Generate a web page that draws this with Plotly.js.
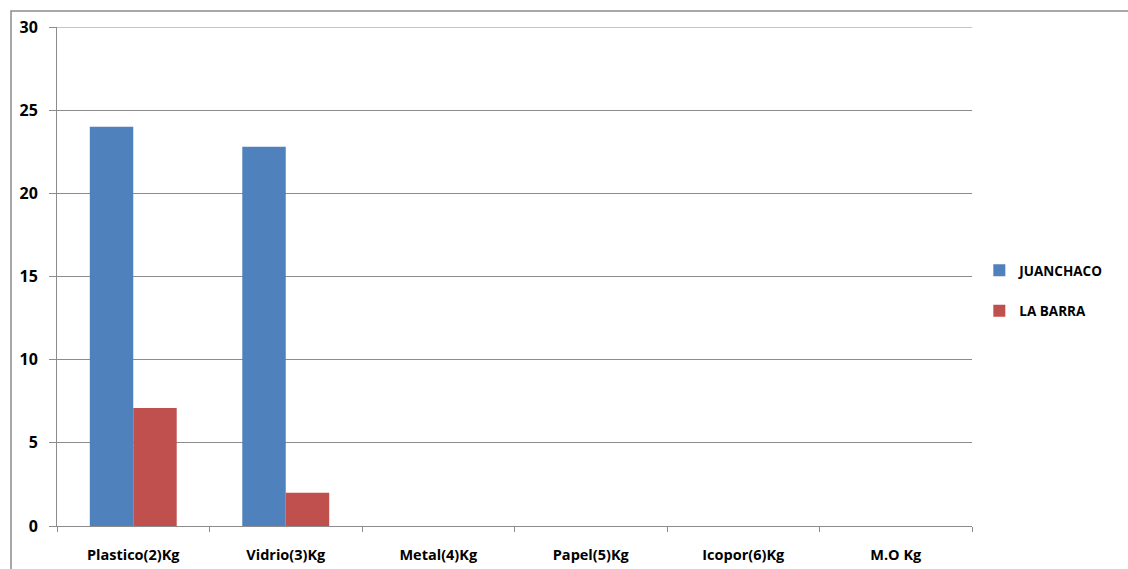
<!DOCTYPE html>
<html>
<head>
<meta charset="utf-8">
<script src="https://cdn.plot.ly/plotly-3.0.1.min.js"></script>
<style>html,body{margin:0;padding:0;background:#fff;}#chart{width:1128px;height:569px;}</style>
</head>
<body>
<div id="chart"></div>
<script>
const categories = ["Plastico(2)Kg", "Vidrio(3)Kg", "Metal(4)Kg", "Papel(5)Kg", "Icopor(6)Kg", "M.O Kg"];
const juanchaco = [24, 22.8, 0, 0, 0, 0];
const laBarra = [7.1, 2, 0, 0, 0, 0];
const seriesNames = ["JUANCHACO", "LA BARRA"];
const yTicks = [0, 5, 10, 15, 20, 25, 30];
const yMax = 30;

const FONT = "'Open Sans', 'Liberation Sans', sans-serif";

const traces = [
  {type: "bar", name: seriesNames[0], x: categories, y: juanchaco,
   marker: {color: "#4F81BD"}, legendgroup: "a"},
  {type: "bar", name: seriesNames[1], x: categories, y: laBarra,
   marker: {color: "#C0504D"}, legendgroup: "b"}
];

const layout = {
  width: 1128, height: 569,
  margin: {l: 57, r: 156, t: 27, b: 43, pad: 0},
  paper_bgcolor: "#fff", plot_bgcolor: "#fff",
  font: {family: FONT, size: 13, color: "#000"},
  barmode: "group",
  bargap: 0.43, bargroupgap: 0,
  xaxis: {
    type: "category",
    showgrid: false, zeroline: false,
    showline: true, linecolor: "#8c8c8c", linewidth: 1,
    ticks: "outside", tickson: "boundaries", ticklen: 5, tickcolor: "#8c8c8c",
    tickfont: {family: FONT, size: 14.5, color: "#000", weight: "bold"},
    ticklabelstandoff: 16
  },
  yaxis: {
    range: [0, yMax], tickvals: yTicks, ticktext: yTicks.map(String),
    showgrid: true, gridcolor: "#8c8c8c", gridwidth: 1,
    zeroline: false,
    showline: true, linecolor: "#8c8c8c", linewidth: 1,
    ticks: "outside", ticklen: 7, tickcolor: "#8c8c8c",
    tickfont: {family: FONT, size: 16, color: "#000", weight: "bold"},
    ticklabelstandoff: 8
  },
  legend: {
    x: 1.008, xanchor: "left", y: 0.471, yanchor: "middle",
    font: {family: FONT, size: 13.5, color: "#000", weight: "bold"},
    traceorder: "grouped", tracegroupgap: 20,
    bgcolor: "rgba(0,0,0,0)"
  },
  shapes: [{
    type: "rect", xref: "paper", yref: "paper",
    x0: (11 - 57) / 915, x1: (1140 - 57) / 915,
    y0: (526 - 600) / 499, y1: (526 - 11) / 499,
    line: {color: "#8c8c8c", width: 1.5}, fillcolor: "rgba(0,0,0,0)", layer: "below"
  }, {
    type: "line", xref: "paper", yref: "y",
    x0: -7 / 915, x1: 1, y0: yMax, y1: yMax,
    line: {color: "#8c8c8c", width: 1}, layer: "above"
  }]
};

Plotly.newPlot("chart", traces, layout, {displayModeBar: false, staticPlot: true});
</script>
</body>
</html>
